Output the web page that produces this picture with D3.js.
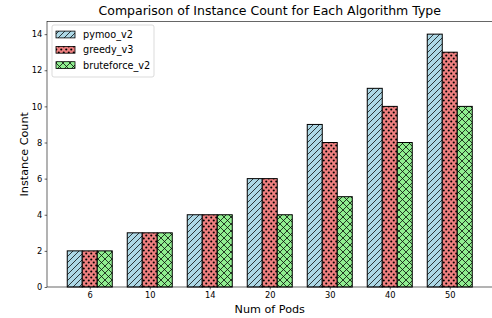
<!DOCTYPE html>
<html><head><meta charset="utf-8">
<script src="https://cdn.jsdelivr.net/npm/d3@7"></script>
<style>body{margin:0;background:#fff}svg{display:block;font-family:"DejaVu Sans",sans-serif}</style>
</head><body><svg id="c" width="492" height="318"></svg>
<script>
const categories = ["6","10","14","20","30","40","50"];
const seriesNames = ["pymoo_v2","greedy_v3","bruteforce_v2"];
const pymoo = [2,3,4,6,9,11,14];
const greedy = [2,3,4,6,8,10,13];
const bruteforce = [2,3,4,4,5,8,10];
const yTicks = [0,2,4,6,8,10,12,14];
const series = [pymoo, greedy, bruteforce];
const colors = ["#add8e6","#f08080","#90ee90"];
const hatchIds = ["hSlash","hDots","hCross"];

const svg = d3.select("#c");
const L = 47, R = 492.5, T = 21.5, B = 287;
const bw = 0.25;
const x = d3.scaleLinear().domain([-0.7125, 6.7125]).range([L, R]);
const y = d3.scaleLinear().domain([0, 14.7]).range([B, T]);

const defs = svg.append("defs");
let p = defs.append("pattern").attr("id","hSlash").attr("patternUnits","userSpaceOnUse").attr("width",6).attr("height",6);
p.append("path").attr("d","M0,6L6,0M-1,1L1,-1M5,7L7,5").attr("stroke","#000").attr("stroke-width",0.75);
p = defs.append("pattern").attr("id","hDots").attr("patternUnits","userSpaceOnUse").attr("width",5).attr("height",6);
[[1.25,1.5],[3.75,4.5],[-1.25,4.5],[6.25,4.5]].forEach(([cx,cy])=>p.append("circle").attr("cx",cx).attr("cy",cy).attr("r",1.05).attr("fill","#000"));
p = defs.append("pattern").attr("id","hCross").attr("patternUnits","userSpaceOnUse").attr("width",7).attr("height",7);
p.append("path").attr("d","M0,0L7,7M0,7L7,0").attr("stroke","#000").attr("stroke-width",0.75);

series.forEach((vals, si) => {
  const g = svg.append("g");
  const off = (si - 1) * bw;
  vals.forEach((v, i) => {
    const x0 = x(i + off - bw/2), x1 = x(i + off + bw/2);
    g.append("rect").attr("x",x0).attr("y",y(v)).attr("width",x1-x0).attr("height",y(0)-y(v)).attr("fill",colors[si]);
    g.append("rect").attr("x",x0).attr("y",y(v)).attr("width",x1-x0).attr("height",y(0)-y(v)).attr("fill","url(#"+hatchIds[si]+")").attr("stroke","#000").attr("stroke-width",1);
  });
});

const xa = svg.append("g").attr("transform",`translate(0,${B})`)
  .call(d3.axisBottom(x).tickValues(d3.range(categories.length)).tickFormat(i=>categories[i]).tickSize(2.4).tickPadding(2.4));
const ya = svg.append("g").attr("transform",`translate(${L},0)`)
  .call(d3.axisLeft(y).tickValues(yTicks).tickSize(2.4).tickPadding(2.4));
[xa,ya].forEach(a=>{a.select(".domain").remove();a.selectAll("text").attr("font-family","DejaVu Sans").attr("font-size",8.3).attr("fill","#000");a.selectAll("line").attr("stroke","#000").attr("stroke-width",0.6);});
svg.append("rect").attr("x",L).attr("y",T).attr("width",R-L).attr("height",B-T).attr("fill","none").attr("stroke","#000").attr("stroke-width",0.6);

svg.append("text").attr("x",(L+R)/2).attr("y",15).attr("text-anchor","middle").attr("font-size",12.5).text("Comparison of Instance Count for Each Algorithm Type");
svg.append("text").attr("x",(L+R)/2).attr("y",313).attr("text-anchor","middle").attr("font-size",11.2).text("Num of Pods");
svg.append("text").attr("transform",`translate(27.5,${(T+B)/2}) rotate(-90)`).attr("text-anchor","middle").attr("font-size",11.2).text("Instance Count");

const lg = svg.append("g");
lg.append("rect").attr("x",52).attr("y",25).attr("width",102).attr("height",52).attr("rx",2).attr("fill","#fff").attr("fill-opacity",0.8).attr("stroke","#ccc").attr("stroke-width",0.7);
seriesNames.forEach((n,i)=>{
  const cy = 34.5 + i*15.3;
  lg.append("rect").attr("x",56).attr("y",cy-3.4).attr("width",19).attr("height",6.8).attr("fill",colors[i]);
  lg.append("rect").attr("x",56).attr("y",cy-3.4).attr("width",19).attr("height",6.8).attr("fill","url(#"+hatchIds[i]+")").attr("stroke","#000").attr("stroke-width",0.8);
  lg.append("text").attr("x",83).attr("y",cy+3.5).attr("font-size",9.7).text(n);
});
</script></body></html>
